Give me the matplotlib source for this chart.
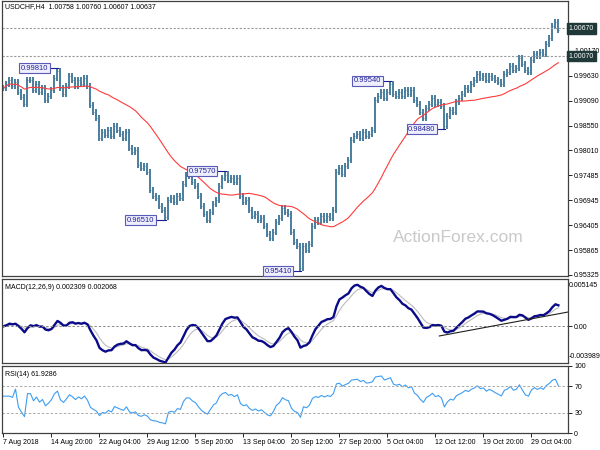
import numpy as np
import pandas as pd
import matplotlib
matplotlib.use('Agg')
import matplotlib.pyplot as plt

plt.rcParams['font.family'] = ['Liberation Sans', 'DejaVu Sans']

# USDCHF H4, one value every two H4 bars
closes = [
    0.9938, 0.9947, 0.9955, 0.9942, 0.9951, 0.9929, 0.9918, 0.9903, 0.9955, 0.9955,
    0.9934, 0.9947, 0.9929, 0.9938, 0.9912, 0.9921, 0.9934, 0.9960, 0.9974, 0.9938,
    0.9925, 0.9942, 0.9964, 0.9955, 0.9942, 0.9955, 0.9947, 0.9960, 0.9942, 0.9901,
    0.9886, 0.9873, 0.9830, 0.9843, 0.9836, 0.9847, 0.9834, 0.9856, 0.9847, 0.9838,
    0.9830, 0.9843, 0.9808, 0.9799, 0.9803, 0.9771, 0.9764, 0.9769, 0.9756, 0.9717,
    0.9704, 0.9699, 0.9682, 0.9673, 0.9658, 0.9695, 0.9699, 0.9691, 0.9704, 0.9699,
    0.9730, 0.9748, 0.9747, 0.9734, 0.9726, 0.9704, 0.9682, 0.9665, 0.9652, 0.9669,
    0.9686, 0.9695, 0.9726, 0.9743, 0.9750, 0.9738, 0.9743, 0.9734, 0.9743, 0.9704,
    0.9691, 0.9695, 0.9673, 0.9660, 0.9665, 0.9652, 0.9656, 0.9639, 0.9621, 0.9613,
    0.9626, 0.9647, 0.9656, 0.9678, 0.9669, 0.9665, 0.9626, 0.9604, 0.9595, 0.9548,
    0.9595, 0.9587, 0.9600, 0.9639, 0.9652, 0.9647, 0.9660, 0.9652, 0.9660, 0.9656,
    0.9673, 0.9756, 0.9764, 0.9751, 0.9769, 0.9782, 0.9825, 0.9834, 0.9838, 0.9830,
    0.9843, 0.9834, 0.9838, 0.9847, 0.9912, 0.9921, 0.9929, 0.9916, 0.9929, 0.9947,
    0.9925, 0.9921, 0.9929, 0.9921, 0.9934, 0.9925, 0.9934, 0.9912, 0.9903, 0.9886,
    0.9873, 0.9895, 0.9903, 0.9916, 0.9903, 0.9908, 0.9899, 0.9855, 0.9877, 0.9890,
    0.9886, 0.9908, 0.9916, 0.9925, 0.9938, 0.9934, 0.9947, 0.9955, 0.9968, 0.9960,
    0.9964, 0.9955, 0.9964, 0.9960, 0.9955, 0.9951, 0.9947, 0.9968, 0.9973, 0.9986,
    0.9977, 0.9981, 1.0003, 0.9990, 0.9977, 0.9973, 0.9999, 1.0012, 1.0007, 1.0016,
    1.0012, 1.0033, 1.0046, 1.0072, 1.0081, 1.0064,
]

title = 'USDCHF,H4  1.00758 1.00760 1.00607 1.00637'
macd_title = 'MACD(12,26,9) 0.002309 0.002068'
rsi_title = 'RSI(14) 61.9286'

date_labels = ['7 Aug 2018', '14 Aug 20:00', '22 Aug 04:00', '29 Aug 12:00',
               '5 Sep 20:00', '13 Sep 04:00', '20 Sep 12:00', '27 Sep 20:00',
               '5 Oct 04:00', '12 Oct 12:00', '19 Oct 20:00', '29 Oct 04:00']
date_ticks = [0, 16, 32, 48, 64, 80, 96, 112, 128, 144, 160, 176]

price_ticks = [0.95325, 0.95865, 0.96405, 0.96945, 0.97485, 0.98025,
               0.98565, 0.99105, 0.99645, 1.00185]
price_tick_labels = ['0.95325', '0.95865', '0.96405', '0.96945', '0.97485',
                     '0.98010', '0.98550', '0.99090', '0.99630', '1.00170']

level_values = [1.0067, 1.0007]
level_labels = ['1.00670', '1.00070']

swing_bars = [18, 54, 74, 99, 129, 147]
swing_values = [0.9981, 0.9651, 0.9757, 0.9541, 0.9954, 0.9848]
swing_labels = ['0.99810', '0.96510', '0.97570', '0.95410', '0.99540', '0.98480']

macd_trend_bars = [145.3, 188.3]
macd_trend_values = [-0.00105, 0.00156]

# ---- indicators (8h steps, so the MT4 periods are roughly halved)
s = pd.Series(closes)
ma = s.rolling(28, min_periods=1).mean()
macd = s.ewm(span=6.5, adjust=False).mean() - s.ewm(span=13.5, adjust=False).mean()
signal = macd.ewm(span=5, adjust=False).mean()
delta = s.diff().fillna(0)
up = delta.clip(lower=0).ewm(alpha=1 / 11, adjust=False).mean()
down = (-delta.clip(upper=0)).ewm(alpha=1 / 11, adjust=False).mean()
rsi = 100 - 100 / (1 + up / down.replace(0, np.nan))
rsi = rsi.fillna(55)

idx = np.arange(len(closes))
opens = np.r_[closes[0], closes[:-1]]
c = np.array(closes)
wick = 0.0007
lows = np.minimum(opens, c) - wick
highs = np.maximum(opens, c) + wick

fig = plt.figure(figsize=(6, 4.5), dpi=100)
ax1 = fig.add_axes([2 / 600, 1 - 276 / 450, 566 / 600, 275 / 450])
ax2 = fig.add_axes([2 / 600, 1 - 363 / 450, 566 / 600, 84 / 450])
ax3 = fig.add_axes([2 / 600, 1 - 433 / 450, 566 / 600, 67 / 450])

xmin, xmax = -0.5, 188.2
bar_col = '#4a7d9e'
for ax in (ax1, ax2, ax3):
    ax.set_xlim(xmin, xmax)
    ax.yaxis.tick_right()
    ax.tick_params(axis='y', length=3, width=0.6, labelsize=5, pad=1.5)
    ax.tick_params(axis='x', length=0)
    ax.set_xticks([])
    for sp in ax.spines.values():
        sp.set_color('#404040')
        sp.set_linewidth(0.9)

# price panel
ax1.vlines(idx, lows, highs, color=bar_col, lw=1.4)
ax1.hlines(c, idx, idx + 0.3, color='#3c6e8e', lw=0.5)
ax1.plot(idx, ma, color='#ff3b3b', lw=0.8)
ax1.set_ylim(0.95303, 1.01265)
ax1.set_yticks(price_ticks)
ax1.set_yticklabels(price_tick_labels)
for v, t in zip(level_values, level_labels):
    ax1.axhline(v, color='#9a9a9a', lw=0.8, ls=(0, (2, 1.5)))
    ax1.text(1.0015, v, t, transform=ax1.get_yaxis_transform(), fontsize=5,
             color='white', va='center', ha='left', zorder=10, clip_on=False,
             bbox=dict(boxstyle='square,pad=0.25', fc='#1f3838', ec='#1f3838'))

box_x = [10.3, 45.7, 66.2, 91.5, 121.3, 139.5]
for b, v, t, bx in zip(swing_bars, swing_values, swing_labels, box_x):
    ax1.plot([bx + 5.3, b + 0.3], [v, v], color='#1c1c8c', lw=0.8, zorder=4)
    ax1.text(bx, v, t, fontsize=5.5, color='#22229a', ha='center', va='center', zorder=5,
             bbox=dict(boxstyle='square,pad=0.2', fc='#eeeefc', ec='#5a5ab8', lw=0.8))

fig.text(5 / 600, 1 - 3 / 450, title, fontsize=5, va='top', ha='left')
fig.text(458 / 600, 1 - 242 / 450, 'ActionForex.com', fontsize=12.5, color='#c9c9c9',
         ha='center', va='baseline')

# MACD panel
ax2.plot(idx, signal, color='#bcbcbc', lw=0.8)
ax2.plot(idx, macd, color='#0b0b8a', lw=1.7)
ax2.axhline(0, color='#8a8a8a', lw=0.7, ls=(0, (2.5, 2)))
ax2.plot(macd_trend_bars, macd_trend_values, color='#202020', lw=0.8)
ax2.set_ylim(-0.003989, 0.005145)
ax2.set_yticks([0.0])
ax2.set_yticklabels(['0.00'])
ax2.text(1.002, 0.96, '0.005145', transform=ax2.transAxes, fontsize=5, va='top', ha='left')
ax2.text(1.001, 0.04, '-0.003989', transform=ax2.transAxes, fontsize=5, va='bottom', ha='left')
ax2.text(3 / 566, 0.94, macd_title, transform=ax2.transAxes, fontsize=5, va='top', ha='left')

# RSI panel
ax3.plot(idx, rsi, color='#3d9df2', lw=0.8)
for lv in (70, 30):
    ax3.axhline(lv, color='#a8a8a8', lw=0.7, ls=(0, (2.5, 2)))
ax3.set_ylim(0, 100)
ax3.set_yticks([0, 30, 70, 100])
ax3.set_yticklabels(['0', '30', '70', '100'])
ax3.text(3 / 566, 0.93, rsi_title, transform=ax3.transAxes, fontsize=5, va='top', ha='left')
ax3.set_xticks(date_ticks)
ax3.set_xticklabels(date_labels, fontsize=5, ha='left')
ax3.tick_params(axis='x', length=3, width=0.6, pad=1.5)

fig.savefig('out.png', dpi=100)
